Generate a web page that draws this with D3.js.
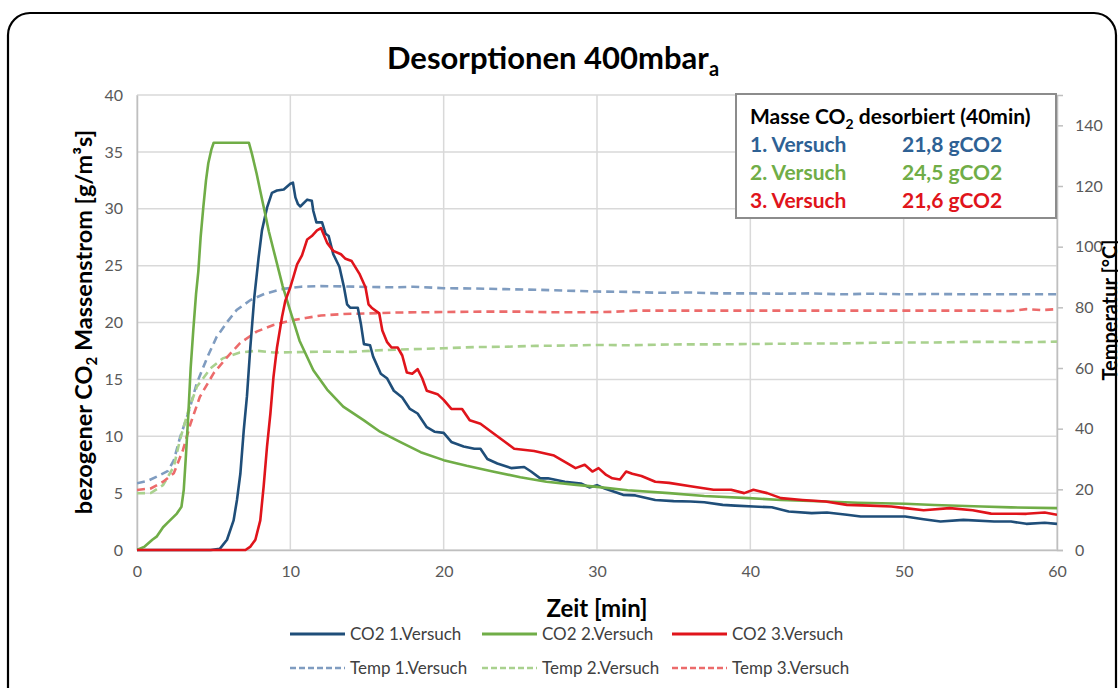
<!DOCTYPE html>
<html><head><meta charset="utf-8">
<script src="https://cdn.jsdelivr.net/npm/d3@7"></script>
<style>
html,body{margin:0;padding:0;background:#fff;}
svg text{font-family:Lato,"Open Sans",sans-serif;}
</style></head>
<body>
<svg id="c" width="1118" height="688"></svg>
<script>
// ---------- data ----------
const xTicks = [0,10,20,30,40,50,60];
const yLeftTicks = [0,5,10,15,20,25,30,35,40];
const yRightTicks = [0,20,40,60,80,100,120,140];
const seriesNames = ["CO2 1.Versuch","CO2 2.Versuch","CO2 3.Versuch","Temp 1.Versuch","Temp 2.Versuch","Temp 3.Versuch"];
const boxRows = ["1. Versuch","2. Versuch","3. Versuch"];
const boxValues = ["21,8 gCO2","24,5 gCO2","21,6 gCO2"];

const co2_1 = [[0,0],[4.8,0],[5.4,0.1],[5.87,0.9],[6.3,2.6],[6.52,4.4],[6.74,6.7],[6.96,10.5],[7.17,13.5],[7.39,17.8],[7.65,22.2],[7.93,25.7],[8.15,28.1],[8.48,30.1],[8.8,31.4],[9.13,31.6],[9.57,31.7],[10.0,32.2],[10.17,32.3],[10.33,31.0],[10.5,30.4],[10.65,30.2],[11.1,30.8],[11.4,30.7],[11.5,29.8],[11.7,28.8],[12.07,28.8],[12.3,27.8],[12.5,27.6],[12.8,26.0],[13.2,24.9],[13.5,23.1],[13.7,21.6],[13.9,21.3],[14.4,21.3],[14.6,19.9],[14.8,18.1],[15.2,18.0],[15.4,17.0],[15.9,15.5],[16.3,15.1],[16.75,14.0],[17.3,13.4],[17.8,12.4],[18.3,12.0],[18.9,10.8],[19.4,10.4],[20.0,10.3],[20.5,9.5],[21.3,9.1],[22.0,8.9],[22.4,8.9],[22.85,8.0],[23.5,7.6],[24.4,7.2],[25.25,7.3],[25.7,6.9],[26.3,6.3],[26.8,6.3],[27.9,6.0],[28.95,5.85],[29.5,5.5],[30.0,5.7],[30.5,5.4],[31.7,4.85],[32.5,4.8],[33.8,4.4],[35,4.3],[36.1,4.26],[37,4.2],[38.2,3.97],[39,3.9],[40.2,3.82],[41.4,3.76],[42.5,3.38],[44.0,3.24],[45,3.3],[46.3,3.1],[47.2,2.94],[50.1,2.94],[51.3,2.7],[52.4,2.5],[53.9,2.65],[55.9,2.5],[57,2.5],[58.0,2.3],[59.2,2.4],[60,2.3]];
const co2_2 = [[0,0],[0.5,0.3],[1.0,0.9],[1.3,1.2],[1.7,2.0],[2.0,2.4],[2.6,3.2],[2.9,3.8],[3.05,5.3],[3.2,8.5],[3.35,12],[3.5,16],[3.67,19.3],[3.85,22.5],[4.0,24.5],[4.15,27.5],[4.33,30.2],[4.5,32.5],[4.65,34],[4.85,35.2],[5.0,35.8],[7.3,35.8],[7.5,34.8],[7.8,33.1],[8.05,31.5],[8.35,29.6],[8.6,28],[8.9,26.4],[9.2,24.8],[9.5,23.2],[10.0,21.0],[10.6,18.4],[11.5,15.8],[12.4,14.1],[13.45,12.6],[14.8,11.4],[15.85,10.4],[17.15,9.5],[18.5,8.6],[20,7.9],[21.5,7.4],[23.2,6.9],[25,6.4],[26.7,6.0],[28.5,5.75],[30,5.55],[32,5.25],[34.7,5.0],[37,4.75],[39.9,4.56],[42,4.4],[44.9,4.26],[47,4.15],[50.1,4.06],[52,3.95],[55.1,3.82],[57,3.75],[60,3.68]];
const co2_3 = [[0,0],[7.07,0],[7.4,0.3],[7.72,0.9],[8.04,2.6],[8.26,5.6],[8.48,9.1],[8.7,12.0],[8.9,15.2],[9.13,17.8],[9.46,20.5],[9.67,21.9],[10.0,23.1],[10.2,24.0],[10.44,25.1],[10.76,25.9],[11.1,27.3],[11.4,27.6],[11.74,28.1],[12.0,28.3],[12.4,27.0],[12.8,26.3],[13.3,26.0],[13.6,25.6],[14.0,25.4],[14.5,24.3],[14.9,23.1],[15.1,21.6],[15.3,21.3],[15.8,20.8],[16.0,19.3],[16.3,18.3],[16.6,17.8],[17.0,17.8],[17.3,17.1],[17.6,15.6],[17.95,15.5],[18.3,15.9],[18.6,15.1],[18.9,14.0],[19.6,13.7],[20.0,13.2],[20.5,12.4],[21.2,12.4],[21.7,11.4],[22.4,11.1],[23.3,10.2],[23.9,9.6],[24.6,8.9],[25.9,8.7],[27.2,8.3],[28.1,7.6],[28.6,7.2],[29.2,7.5],[29.7,6.9],[30.1,7.2],[30.6,6.6],[31.0,6.3],[31.5,6.2],[31.9,6.9],[32.3,6.7],[32.9,6.5],[33.8,6.0],[34.7,5.9],[36.1,5.6],[37.6,5.3],[38.75,5.3],[39.6,5.0],[40.2,5.3],[41.1,5.0],[42.0,4.56],[43.4,4.4],[44.9,4.26],[46.3,3.97],[47.8,3.9],[49.2,3.82],[50.1,3.68],[51.3,3.5],[53.0,3.68],[54.5,3.5],[55.7,3.2],[58.0,3.18],[59.2,3.3],[60,3.1]];
const temp_1 = [[0,22.0],[0.7,22.8],[1.3,24.2],[2.0,26],[2.4,29.5],[2.8,37],[3.4,46],[3.9,55],[4.6,63.7],[5.2,70.3],[5.9,75.3],[6.5,79.1],[7.4,82.4],[8.3,84.4],[9.4,86.0],[10.7,86.8],[12,87],[13.5,86.9],[15,86.7],[17,86.6],[18,86.8],[20,86.3],[22,86.2],[24,86.0],[26,85.8],[28,85.5],[30,85.2],[32,85.1],[34,84.8],[36,84.9],[38,84.6],[40,84.6],[42,84.5],[44,84.6],[46,84.3],[48,84.5],[50,84.3],[52,84.4],[54,84.3],[56,84.3],[58,84.3],[60,84.3]];
const temp_2 = [[0,18.7],[0.9,18.8],[1.7,21.4],[2.4,27.5],[2.8,36.3],[3.3,45.1],[3.9,53.8],[4.8,59.9],[5.6,63.2],[6.7,65.1],[7.8,65.7],[8.9,65.1],[10,65.2],[12,65.4],[14,65.3],[16,65.9],[18,66.2],[20,66.5],[22,66.9],[24,67.0],[26,67.3],[28,67.4],[30,67.6],[32,67.5],[34,67.7],[36,67.8],[38,67.8],[40,67.9],[42,68.0],[44,68.1],[46,68.1],[48,68.3],[50,68.4],[52,68.4],[54,68.6],[56,68.6],[58,68.5],[60,68.7]];
const temp_3 = [[0,19.8],[0.9,20.3],[1.7,22.5],[2.4,25.3],[3.0,33],[3.5,41.8],[4.1,50.5],[5.0,58.3],[5.9,63.7],[6.7,68.1],[7.8,72],[8.9,74.2],[10,75.6],[11,76.5],[12,77.3],[13.5,77.8],[15,78.0],[17,78.3],[19,78.4],[21,78.5],[23,78.6],[25,78.6],[27,78.4],[29,78.4],[30,78.4],[31,78.5],[32.5,78.9],[35,78.9],[40,78.9],[45,78.9],[50,78.9],[55,78.9],[57,78.8],[58,79.4],[59,79.1],[60,79.4]];

// ---------- layout ----------
const svg = d3.select("#c");
const L = 137, R = 1057, T = 95, B = 550;
const x = d3.scaleLinear().domain([0,60]).range([L,R]);
const yL = d3.scaleLinear().domain([0,40]).range([B,T]);
const yR = d3.scaleLinear().domain([0,150]).range([B,T]);

const cBlue = "#1f4e79", cGreen = "#70ad47", cRed = "#e0141b";
const tBlue = "#7f9cc0", tGreen = "#a9d18e", tRed = "#ec6b6b";
const boxColors = ["#2e6194","#70ad47","#e0141b"];

// outer frame
svg.append("rect").attr("x",8).attr("y",13).attr("width",1108).attr("height",720)
  .attr("rx",22).attr("fill","none").attr("stroke","#000").attr("stroke-width",2.2);

// gridlines
const g = svg.append("g");
g.selectAll(".hg").data(yLeftTicks).join("line")
  .attr("x1",L).attr("x2",R).attr("y1",d=>yL(d)).attr("y2",d=>yL(d))
  .attr("stroke","#d9d9d9").attr("stroke-width",1.5);
g.selectAll(".vg").data(xTicks).join("line")
  .attr("y1",T).attr("y2",B).attr("x1",d=>x(d)).attr("x2",d=>x(d))
  .attr("stroke","#d9d9d9").attr("stroke-width",1.5);

// axes
const axB = svg.append("g").attr("transform",`translate(0,${B})`)
  .call(d3.axisBottom(x).tickValues(xTicks).tickSize(0).tickPadding(16));
const axL = svg.append("g").attr("transform",`translate(${L},0)`)
  .call(d3.axisLeft(yL).tickValues(yLeftTicks).tickSize(0).tickPadding(14));
const axR = svg.append("g").attr("transform",`translate(${R},0)`)
  .call(d3.axisRight(yR).tickValues(yRightTicks).tickSize(6).tickPadding(12));
[axB,axL,axR].forEach(a=>{
  a.selectAll("path.domain").attr("stroke","#bfbfbf").attr("stroke-width",1.5);
  a.selectAll(".tick line").attr("stroke","#bfbfbf").attr("stroke-width",1.5);
  a.selectAll("text").attr("fill","#595959").style("font-size","16px").style("font-family","Lato");
});
axB.select("path.domain").attr("d",`M${L},0.5H${R}`);

// clip
svg.append("clipPath").attr("id","clip").append("rect")
  .attr("x",L).attr("y",T-2).attr("width",R-L).attr("height",B-T+4);
const plot = svg.append("g").attr("clip-path","url(#clip)");

const lineL = d3.line().x(d=>x(d[0])).y(d=>yL(d[1]));
const lineR = d3.line().x(d=>x(d[0])).y(d=>yR(d[1]));

[[temp_1,tBlue],[temp_2,tGreen],[temp_3,tRed]].forEach(([d,c])=>{
  plot.append("path").datum(d).attr("d",lineR).attr("fill","none")
    .attr("stroke",c).attr("stroke-width",2.6).attr("stroke-dasharray","8,5");
});
[[co2_1,cBlue],[co2_2,cGreen],[co2_3,cRed]].forEach(([d,c])=>{
  plot.append("path").datum(d).attr("d",lineL).attr("fill","none")
    .attr("stroke",c).attr("stroke-width",2.6).attr("stroke-linejoin","round");
});

// title
const title = svg.append("text").attr("x",553).attr("y",69).attr("text-anchor","middle")
  .style("font-size","31px").style("font-weight","bold").attr("fill","#000");
title.append("tspan").text("Desorptionen 400mbar");
title.append("tspan").text("a").attr("dy",7).style("font-size","20px");

// axis titles
const lt = svg.append("text").attr("transform","translate(92,322) rotate(-90)")
  .attr("text-anchor","middle").style("font-size","23.5px").style("font-weight","bold").attr("fill","#000");
lt.append("tspan").text("bezogener CO");
lt.append("tspan").text("2").attr("dy",5).style("font-size","15px");
lt.append("tspan").text(" Massenstrom [g/m³s]").attr("dy",-5);

svg.append("text").attr("transform","translate(1117,310) rotate(-90)")
  .attr("text-anchor","middle").style("font-size","20px").style("font-weight","bold").attr("fill","#000")
  .text("Temperatur [°C]");

svg.append("text").attr("x",597).attr("y",617).attr("text-anchor","middle")
  .style("font-size","24px").style("font-weight","bold").attr("fill","#000").text("Zeit [min]");

// bottom legend
const legX = [290,482,672];
const legCols = [[cBlue,cGreen,cRed],[tBlue,tGreen,tRed]];
const legY = [634,668];
seriesNames.forEach((n,i)=>{
  const row = Math.floor(i/3), col = i%3;
  const gx = legX[col], gy = legY[row];
  svg.append("line").attr("x1",gx).attr("x2",gx+55).attr("y1",gy).attr("y2",gy)
    .attr("stroke",legCols[row][col]).attr("stroke-width",row?2.6:3)
    .attr("stroke-dasharray",row?"6,3":null);
  svg.append("text").attr("x",gx+60).attr("y",gy+6).style("font-size","17px")
    .attr("fill","#404040").text(n);
});

// inset box
svg.append("rect").attr("x",736).attr("y",94).attr("width",320).attr("height",124)
  .attr("fill","#fff").attr("stroke","#8c8c8c").attr("stroke-width",2);
const bt = svg.append("text").attr("x",750).attr("y",124).style("font-size","21px")
  .style("font-weight","bold").attr("fill","#000");
bt.append("tspan").text("Masse CO");
bt.append("tspan").text("2").attr("dy",5).style("font-size","14px");
bt.append("tspan").text(" desorbiert (40min)").attr("dy",-5);
boxRows.forEach((r,i)=>{
  svg.append("text").attr("x",750).attr("y",152+i*28).style("font-size","21px")
    .style("font-weight","bold").attr("fill",boxColors[i]).text(r);
  svg.append("text").attr("x",902).attr("y",152+i*28).style("font-size","21px")
    .style("font-weight","bold").attr("fill",boxColors[i]).text(boxValues[i]);
});
</script>
</body></html>
